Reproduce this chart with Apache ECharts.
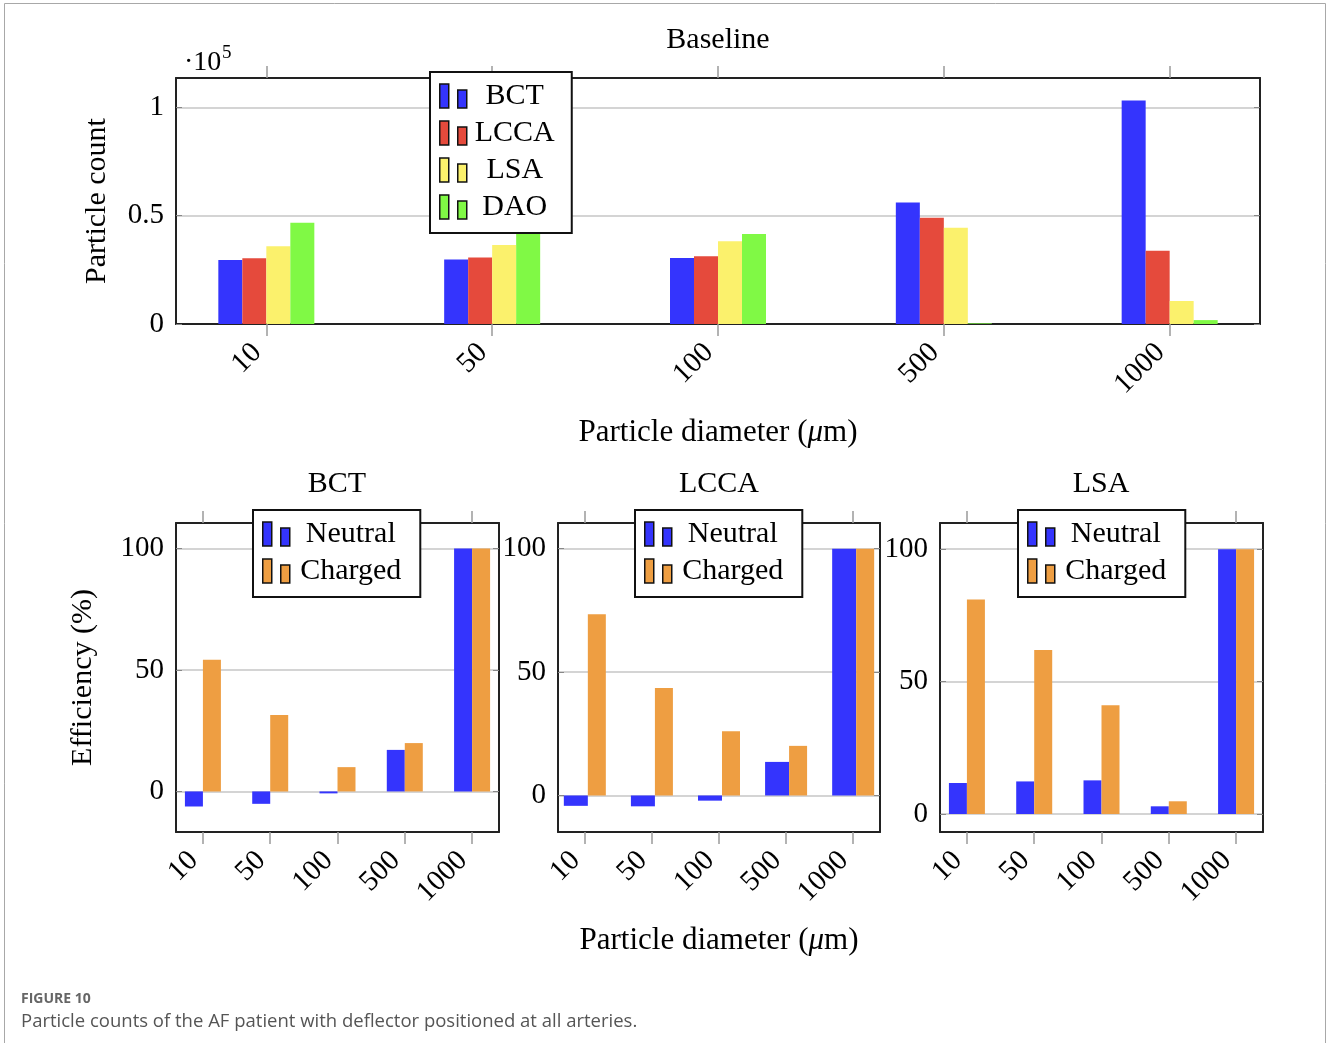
<!DOCTYPE html>
<html>
<head>
<meta charset="utf-8">
<title>Particle counts</title>
<script src="https://cdn.jsdelivr.net/npm/echarts@6/dist/echarts.min.js"></script>
<style>
  html, body { margin: 0; padding: 0; background: #fff; }
  #chart { width: 1328px; height: 1043px; }
</style>
</head>
<body>
<div id="chart"></div>
<script>
// particle diameters (um), shared by all panels
var diameters = ['10', '50', '100', '500', '1000'];

// baseline particle counts
var baseBCT  = [29500, 29800, 30400, 56100, 103100];
var baseLCCA = [30300, 30700, 31300, 49000, 33800];
var baseLSA  = [35900, 36500, 38200, 44400, 10600];
var baseDAO  = [46700, 47500, 41500, 300, 1800];

// efficiency (%) per artery
var bctNeutral  = [-6.2, -5.1, -0.8, 17.1, 100];
var bctCharged  = [54.2, 31.5, 10.0, 19.9, 100];
var lccaNeutral = [-4.2, -4.4, -2.1, 13.6, 100];
var lccaCharged = [73.4, 43.5, 26.0, 20.1, 100];
var lsaNeutral  = [11.7, 12.3, 12.7, 2.9, 100];
var lsaCharged  = [81.0, 61.9, 41.1, 4.8, 100];

var countTicks = [0, 50000, 100000];
var effTicks = [0, 50, 100];

var SERIF = "'Liberation Serif', 'DejaVu Serif', serif";
var BLUE = '#3434fd', RED = '#e54a3c', YELLOW = '#fbf16c', GREEN = '#80f945', ORANGE = '#ee9e42';
var legendIcon = 'path://M0,0h9v24h-9z M18,6h9v18h-9z';
var xIdx = [0, 1, 2, 3, 4];

function toPoints(arr) {
  return arr.map(function (v, i) { return [i, v]; });
}

function xAxes(grid, name, nameGap) {
  var bottom = {
    type: 'value', gridIndex: grid, position: 'bottom', min: -0.4, max: 4.4,
    axisLine: { show: true, onZero: false, lineStyle: { color: '#222', width: 2 } },
    axisTick: { show: true, customValues: xIdx, length: 12, lineStyle: { color: '#9a9a9a', width: 1.5 } },
    axisLabel: {
      customValues: xIdx, rotate: 45, margin: 15, padding: [0, 13, 0, 0],
      color: '#000', fontFamily: SERIF, fontSize: 29,
      formatter: function (v) { return diameters[Math.round(v)]; }
    },
    splitLine: { show: false }
  };
  if (name) {
    bottom.name = name;
    bottom.nameLocation = 'middle';
    bottom.nameGap = nameGap;
    bottom.nameTextStyle = {
      color: '#000', fontFamily: SERIF, fontSize: 31,
      rich: { i: { fontFamily: SERIF, fontSize: 31, fontStyle: 'italic', color: '#000' } }
    };
  }
  var top = {
    type: 'value', gridIndex: grid, position: 'top', min: -0.4, max: 4.4,
    axisLine: { show: true, onZero: false, lineStyle: { color: '#222', width: 2 } },
    axisTick: { show: true, customValues: xIdx, length: 12, lineStyle: { color: '#9a9a9a', width: 1.5 } },
    axisLabel: { show: false },
    splitLine: { show: false }
  };
  return [bottom, top];
}

function yAxes(grid, min, max, ticks, fmt, name, nameGap) {
  var left = {
    type: 'value', gridIndex: grid, position: 'left', min: min, max: max,
    axisLine: { show: true, onZero: false, lineStyle: { color: '#222', width: 2 } },
    axisTick: { show: true, inside: true, customValues: ticks, length: 6, lineStyle: { color: '#888' } },
    axisLabel: { customValues: ticks, margin: 12, color: '#000', fontFamily: SERIF, fontSize: 29, formatter: fmt },
    splitLine: { show: true, lineStyle: { color: '#c6c6c6', width: 1.5 } }
  };
  if (name) {
    left.name = name;
    left.nameLocation = 'middle';
    left.nameGap = nameGap;
    left.nameTextStyle = { color: '#000', fontFamily: SERIF, fontSize: 30 };
  }
  var right = {
    type: 'value', gridIndex: grid, position: 'right', min: min, max: max,
    axisLine: { show: true, onZero: false, lineStyle: { color: '#222', width: 2 } },
    axisTick: { show: true, inside: true, customValues: ticks, length: 6, lineStyle: { color: '#888' } },
    axisLabel: { show: false },
    splitLine: { show: false }
  };
  return [left, right];
}

function bar(name, arr, axis, width, color) {
  return {
    type: 'bar', name: name, xAxisIndex: axis, yAxisIndex: axis,
    data: toPoints(arr), barWidth: width, barGap: '0%',
    itemStyle: { color: color },
    emphasis: { disabled: true }
  };
}

// pgfplots style legend box, entry text centred in a fixed column
function legend(names, left, top, textWidth, rightPad) {
  return {
    data: names, orient: 'vertical', left: left, top: top, selectedMode: false,
    icon: legendIcon, itemWidth: 27, itemHeight: 24, itemGap: 7,
    padding: [9, rightPad, 11, 9],
    backgroundColor: '#fff', borderColor: '#111', borderWidth: 2, borderRadius: 0,
    itemStyle: { borderColor: '#111', borderWidth: 1.5 },
    formatter: '{c|{name}}',
    textStyle: {
      color: '#000', fontFamily: SERIF, fontSize: 30,
      rich: { c: { width: textWidth, align: 'center', color: '#000', fontFamily: SERIF, fontSize: 30 } }
    }
  };
}

function title(text, x, y) {
  return {
    text: text, left: x, top: y, textAlign: 'center', padding: 0,
    textStyle: { color: '#000', fontFamily: SERIF, fontSize: 30, fontWeight: 'normal' }
  };
}

var fmtCount = function (v) { return String(v / 100000); };
var fmtEff = function (v) { return String(v); };
var diamName = 'Particle diameter ({i|μ}m)';

var chart = echarts.init(document.getElementById('chart'));

var option = {
  backgroundColor: '#fff',
  animation: false,
  title: [
    title('Baseline', 718, 25),
    title('BCT', 337, 469),
    title('LCCA', 719, 469),
    title('LSA', 1101, 469)
  ],
  grid: [
    { left: 176, top: 78, width: 1084, height: 246 },
    { left: 176, top: 523, width: 323, height: 309 },
    { left: 558, top: 523, width: 322, height: 309 },
    { left: 940, top: 523, width: 323, height: 309 }
  ],
  xAxis: [].concat(
    xAxes(0, diamName, 93),
    xAxes(1),
    xAxes(2, diamName, 93),
    xAxes(3)
  ),
  yAxis: [].concat(
    yAxes(0, 0, 113500, countTicks, fmtCount, 'Particle count', 64),
    yAxes(1, -16.7, 110.5, effTicks, fmtEff, 'Efficiency (%)', 78),
    yAxes(2, -14.8, 110.4, effTicks, fmtEff),
    yAxes(3, -6.8, 109.9, effTicks, fmtEff)
  ),
  legend: [
    legend(['BCT', 'LCCA', 'LSA', 'DAO'], 430, 72, 86, 17),
    legend(['Neutral', 'Charged'], 253, 510, 112, 19),
    legend(['Neutral', 'Charged'], 635, 510, 112, 19),
    legend(['Neutral', 'Charged'], 1018, 510, 112, 19)
  ],
  series: [
    bar('BCT', baseBCT, 0, 24, BLUE),
    bar('LCCA', baseLCCA, 0, 24, RED),
    bar('LSA', baseLSA, 0, 24, YELLOW),
    bar('DAO', baseDAO, 0, 24, GREEN),
    bar('Neutral', bctNeutral, 2, 18, BLUE),
    bar('Charged', bctCharged, 2, 18, ORANGE),
    bar('Neutral', lccaNeutral, 4, 24, BLUE),
    bar('Charged', lccaCharged, 4, 18, ORANGE),
    bar('Neutral', lsaNeutral, 6, 18, BLUE),
    bar('Charged', lsaCharged, 6, 18, ORANGE)
  ],
  graphic: [
    // outer figure frame
    { type: 'rect', silent: true, z: -10, shape: { x: 4.5, y: 3.5, width: 1321, height: 1100 },
      style: { fill: 'none', stroke: '#a8a8a8', lineWidth: 1 } },
    // scale factor of the count axis
    { type: 'text', left: 184, top: 49, silent: true,
      style: { text: '·10', fill: '#000', font: '28px ' + SERIF } },
    { type: 'text', left: 222, top: 44, silent: true,
      style: { text: '5', fill: '#000', font: '19px ' + SERIF } },
    // caption
    { type: 'text', left: 21, top: 992, silent: true,
      style: { text: 'FIGURE 10', fill: '#666', font: 'bold 14px "Open Sans", sans-serif' } },
    { type: 'text', left: 21, top: 1012, silent: true,
      style: { text: 'Particle counts of the AF patient with deflector positioned at all arteries.',
        fill: '#555', font: '18.5px "Open Sans", sans-serif' } }
  ]
};

chart.setOption(option);
</script>
</body>
</html>
